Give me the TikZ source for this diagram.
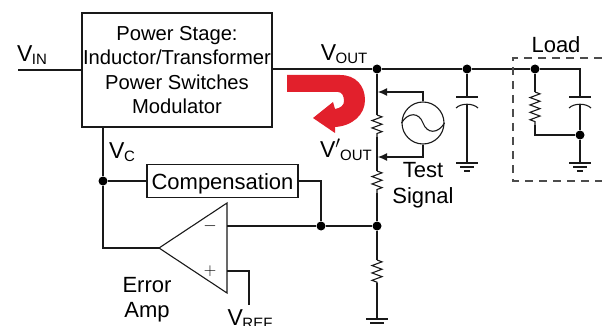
\documentclass[tikz,border=0pt]{standalone}
\usepackage{fontspec}
\setmainfont{Liberation Sans}
\usetikzlibrary{arrows.meta,decorations.pathmorphing}
\definecolor{fbred}{HTML}{E2202C}
\newcommand{\vsub}[2]{{\fontsize{23}{24}\selectfont V#1}\kern-0.5pt{\fontsize{15}{15}\selectfont\raisebox{-2.5pt}{#2}}}
\tikzset{
  wire/.style={line width=1.1pt, black!90},
  dot/.style={circle, fill=black, inner sep=0pt, minimum size=9pt},
  lbl/.style={font=\fontsize{22}{27}\selectfont, align=center, inner sep=0pt},
  res/.style={wire, decoration={zigzag, amplitude=5pt, segment length=7.4pt}, decorate},
  pin/.style={wire, -{Latex[length=9pt,width=8pt]}},
  pics/gnd/.style={code={
    \draw[wire] (-11,0) -- (11,0);
    \draw[wire] (-7,4) -- (7,4);
    \draw[wire] (-3,8) -- (3,8);
  }},
  pics/cap/.style={code={
    \draw[wire] (-11,0) -- (11,0);
    \draw[wire] (-11,11) .. controls (-6,6) and (6,6) .. (11,11);
  }}
}
\begin{document}
\begin{tikzpicture}[x=1pt, y=-1pt]
  \path[use as bounding box, clip] (0,0) rectangle (602,326);
  % blocks
  \node[draw=black!90, line width=1.1pt, minimum width=190pt, minimum height=114pt, lbl, font=\fontsize{20.2}{24.5}\selectfont] (power) at (177,70) {Power Stage:\\Inductor/Transformer\\Power Switches\\Modulator};
  \node[draw=black!90, line width=1.1pt, minimum width=151pt, minimum height=33pt, lbl, text depth=1pt, text height=17pt] (comp) at (222.5,181) {Compensation};
  \coordinate (tip) at (159,248);
  \coordinate (ampt) at (227,203);
  \coordinate (ampb) at (227,293);
  \draw[wire, fill=white] (tip) -- (ampt) -- (ampb) -- cycle;
  \node[lbl, font=\fontsize{17}{18}\selectfont] (minus) at (210,226) {$-$};
  \node[lbl, font=\fontsize{17}{18}\selectfont] (plus) at (210,271) {$+$};
  \node[draw=black!90, line width=1.1pt, circle, minimum size=42pt, inner sep=0pt] (sig) at (423,123) {};
  \draw[wire] (sig.west) .. controls (408,112) and (419,112) .. (423,123) .. controls (427,134) and (438,134) .. (sig.east);
  % junctions
  \node[dot] (j1) at (377,69) {};
  \node[dot] (j2) at (467,69) {};
  \node[dot] (j3) at (535,69) {};
  \node[dot] (j4) at (580,135) {};
  \node[dot] (j5) at (377,226) {};
  \node[dot] (j6) at (321,226) {};
  \node[dot] (j7) at (103,181) {};
  % free ends
  \coordinate (vin) at (18,70);
  \coordinate (vref) at (249,305);
  \coordinate (lr) at (580,69);
  \coordinate (pa) at (378,92);
  \coordinate (pb) at (378,157);
  \coordinate (r1a) at (377,115);
  \coordinate (r1b) at (377,137);
  \coordinate (r2a) at (377,171);
  \coordinate (r2b) at (377,193);
  \coordinate (r3a) at (377,260);
  \coordinate (r3b) at (377,283);
  \coordinate (r4a) at (535,92);
  \coordinate (r4b) at (535,125);
  \coordinate (g1) at (377,319);
  \coordinate (g2) at (467,163);
  \coordinate (g3) at (580,163);
  \coordinate (c1) at (467,97);
  \coordinate (c2) at (580,97);
  % wires
  \draw[wire] (vin) -- (vin -| power.west);
  \draw[wire] (power.east |- j1) -- (j1) -- (j2) -- (j3) -- (lr) -- (c2);
  \draw[wire] (j1) -- (r1a);
  \draw[res] (r1a) -- (r1b);
  \draw[wire] (r1b) -- (r2a);
  \draw[res] (r2a) -- (r2b);
  \draw[wire] (r2b) -- (j5) -- (r3a);
  \draw[res] (r3a) -- (r3b);
  \draw[wire] (r3b) -- (g1);
  \draw[wire] (j2) -- (c1);
  \draw[wire] (467,105) -- (g2);
  \draw[wire] (580,105) -- (j4) -- (g3);
  \draw[wire] (j3) -- (r4a);
  \draw[res] (r4a) -- (r4b);
  \draw[wire] (r4b) |- (j4);
  \draw[wire] (103,127) -- (j7) -- (103,248) -- (tip);
  \draw[wire] (j7) -- (comp.west);
  \draw[wire] (comp.east) -| (j6);
  \draw[wire] (227,226) -- (j6) -- (j5);
  \draw[wire] (227,271) -| (vref);
  \draw[pin] (sig.north) |- (pa);
  \draw[pin] (sig.south) |- (pb);
  \pic at (c1) {cap};
  \pic at (c2) {cap};
  \pic at (g1) {gnd};
  \pic at (g2) {gnd};
  \pic at (g3) {gnd};
  % load
  \draw[black!70, line width=1.1pt, dash pattern=on 8pt off 6pt] (602,58) -- (513,58) -- (513,181) -- (602,181);
  % red arrow
  \fill[fbred] (287,75) -- (340,75) .. controls (356,75) and (365,86) .. (365,100) .. controls (365,115) and (352,126) .. (335,127) -- (335,133) -- (313,118) -- (333,102) -- (335,109) .. controls (341,108) and (344,105) .. (344,101) .. controls (344,96) and (342,92) .. (338,92) -- (287,92) -- cycle;
  % labels
  \node[lbl] (lvin) at (32,55) {\vsub{}{IN}};
  \node[lbl] (lvout) at (344,54) {\vsub{}{OUT}};
  \node[lbl] (lvc) at (122,152) {\vsub{}{C}};
  \node[lbl] (lvp) at (346,150) {\vsub{$'$}{OUT}};
  \node[lbl] (test) at (423,170) {Test};
  \node[lbl] (signal) at (423,198) {Signal};
  \node[lbl] (load) at (556,45) {Load};
  \node[lbl] (err) at (147,285) {Error};
  \node[lbl] (amp) at (147,312) {Amp};
  \node[lbl] (lvref) at (250,319) {\vsub{}{REF}};
\end{tikzpicture}
\end{document}
